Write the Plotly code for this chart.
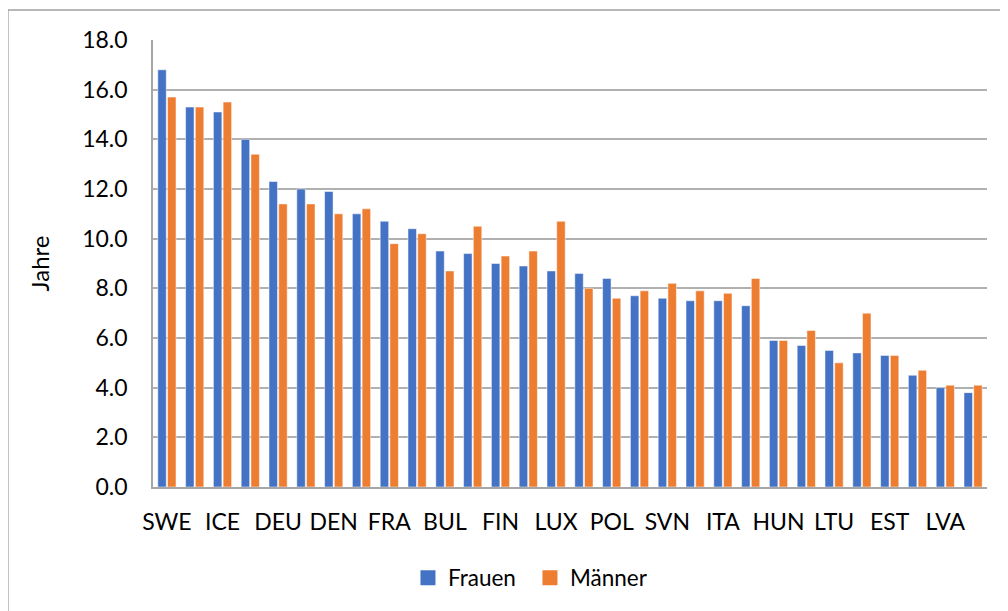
import plotly.graph_objects as go

countries = ["SWE", "NOR", "ICE", "MLT", "DEU", "IRL", "DEN", "BEL", "FRA", "NLD",
             "BUL", "CYP", "FIN", "ESP", "LUX", "GRE", "POL", "CZE", "SVN", "AUT",
             "ITA", "POR", "HUN", "ROU", "LTU", "CRO", "EST", "SVK", "LVA", "SUI"]
frauen = [16.8, 15.3, 15.1, 14.0, 12.3, 12.0, 11.9, 11.0, 10.7, 10.4,
          9.5, 9.4, 9.0, 8.9, 8.7, 8.6, 8.4, 7.7, 7.6, 7.5,
          7.5, 7.3, 5.9, 5.7, 5.5, 5.4, 5.3, 4.5, 4.0, 3.8]
maenner = [15.7, 15.3, 15.5, 13.4, 11.4, 11.4, 11.0, 11.2, 9.8, 10.2,
           8.7, 10.5, 9.3, 9.5, 10.7, 8.0, 7.6, 7.9, 8.2, 7.9,
           7.8, 8.4, 5.9, 6.3, 5.0, 7.0, 5.3, 4.7, 4.1, 4.1]
shown_labels = countries[::2]
y_ticks = [0, 2, 4, 6, 8, 10, 12, 14, 16, 18]

BLUE = "#4472C4"
ORANGE = "#ED7D31"
FONT = "Lato"

fig = go.Figure()
fig.add_trace(go.Bar(x=countries, y=frauen, name="Frauen", showlegend=False,
                     marker=dict(color=BLUE, line=dict(color="white", width=0.5))))
fig.add_trace(go.Bar(x=countries, y=maenner, name="Männer", showlegend=False,
                     marker=dict(color=ORANGE, line=dict(color="white", width=0.5))))
# legend entries with larger square symbols
fig.add_trace(go.Scatter(x=[None], y=[None], mode="markers", name="Frauen",
                         marker=dict(symbol="square", size=15, color=BLUE)))
fig.add_trace(go.Scatter(x=[None], y=[None], mode="markers", name="Männer",
                         marker=dict(symbol="square", size=15, color=ORANGE)))

# page body has an 8px margin, so the figure is drawn at (8, 8)
fig.update_layout(
    width=1000, height=603,
    margin=dict(l=145, r=21, t=32, b=124),
    paper_bgcolor="white", plot_bgcolor="white",
    font=dict(family=FONT, size=23, color="#000000"),
    barmode="group", bargap=0.3, bargroupgap=0.13,
    showlegend=True,
    legend=dict(orientation="h", x=0.452, xanchor="center", y=-0.2036, yanchor="middle",
                font=dict(size=22.5), itemwidth=30, traceorder="normal", itemsizing="trace",
                entrywidth=77, entrywidthmode="pixels"),
    xaxis=dict(type="category", tickmode="array", tickvals=shown_labels, ticktext=shown_labels,
               tickangle=0, showline=True, linecolor="#a6a6a6", linewidth=1.5,
               ticks="", showgrid=False, ticklabelstandoff=14,
               tickfont=dict(size=23)),
    yaxis=dict(range=[0, 18], tickvals=y_ticks, tickformat=".1f", showgrid=True,
               gridcolor="#b0b0b0", gridwidth=1.5, showline=True, linecolor="#a6a6a6",
               linewidth=1.5, ticks="", ticklabelstandoff=19, zeroline=False,
               tickfont=dict(size=23),
               title=dict(text="Jahre", font=dict(size=24), standoff=26)),
    shapes=[
        dict(type="line", xref="paper", yref="paper", x0=-0.174, x1=1.1, y0=1.067, y1=1.067,
             line=dict(color="#a0a0a0", width=1.5)),
        dict(type="line", xref="paper", yref="paper", x0=-0.174, x1=-0.174, y0=1.067, y1=-0.35,
             line=dict(color="#a0a0a0", width=1.5)),
    ],
)

fig.write_html("out.html")
